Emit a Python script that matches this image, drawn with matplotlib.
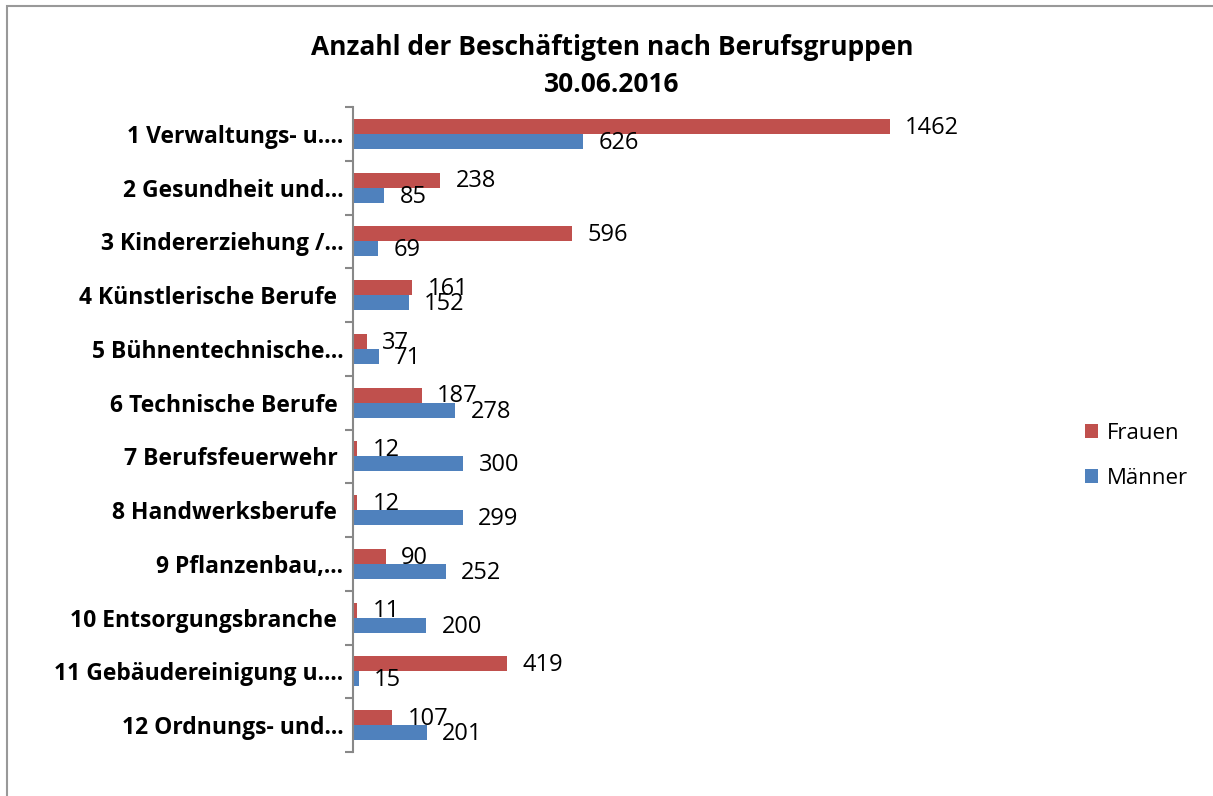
import numpy as np
import matplotlib.pyplot as plt
from matplotlib.patches import Rectangle

# data
kategorien = ['1 Verwaltungs- u....', '2 Gesundheit und...', '3 Kindererziehung /...',
              '4 Künstlerische Berufe ', '5 Bühnentechnische...', '6 Technische Berufe ',
              '7 Berufsfeuerwehr ', '8 Handwerksberufe ', '9 Pflanzenbau,...',
              '10 Entsorgungsbranche ', '11 Gebäudereinigung u....', '12 Ordnungs- und...']
frauen = [1462, 238, 596, 161, 37, 187, 12, 12, 90, 11, 419, 107]
maenner = [626, 85, 69, 152, 71, 278, 300, 299, 252, 200, 15, 201]

rot = '#C0504D'
blau = '#4F81BD'
plt.rcParams['font.family'] = ['Open Sans', 'DejaVu Sans']

W, H = 1213, 796
fig = plt.figure(figsize=(W / 100, H / 100), dpi=100)
ax = fig.add_axes([353 / W, 1 - 752 / H, (1060 - 353) / W, (752 - 107) / H])

y = np.arange(len(kategorien))
h = 0.28
ax.barh(y - h / 2, frauen, height=h, color=rot, label='Frauen')
ax.barh(y + h / 2, maenner, height=h, color=blau, label='Männer')

ax.set_ylim(len(kategorien) - 0.5, -0.5)
ax.set_xlim(0, (1060 - 353) / ((890 - 353) / 1462))

# value labels
for i in range(len(kategorien)):
    ax.annotate(str(frauen[i]), (frauen[i], y[i] - h / 2), xytext=(11, -1),
                textcoords='offset points', va='center', ha='left', fontsize=17)
    ax.annotate(str(maenner[i]), (maenner[i], y[i] + h / 2), xytext=(11, -1),
                textcoords='offset points', va='center', ha='left', fontsize=17)

# axis styling
for s in ['top', 'right', 'bottom']:
    ax.spines[s].set_visible(False)
ax.spines['left'].set_color('#888888')
ax.spines['left'].set_linewidth(1.5)
ax.set_xticks([])
ax.set_yticks(np.arange(-0.5, len(kategorien)), labels=[])
ax.tick_params(axis='y', which='major', length=6, width=1.5, color='#888888')
ax.set_yticks(y, labels=kategorien, minor=True)
ax.tick_params(axis='y', which='minor', length=0, pad=7)
for t in ax.get_yticklabels(minor=True):
    t.set_fontweight('bold')
    t.set_fontsize(16.5)

fig.text(612 / W, 1 - 66 / H, 'Anzahl der Beschäftigten nach Berufsgruppen\n30.06.2016',
         ha='center', va='center', fontsize=19, fontweight='bold', linespacing=1.5)

ax.legend(loc='center left', bbox_to_anchor=(1065 / W, 1 - 456 / H),
          bbox_transform=fig.transFigure, frameon=False, fontsize=16,
          handlelength=0.6, handleheight=0.6, handletextpad=0.4, labelspacing=1.1)

# outer chart border
fig.patches.append(Rectangle((7 / W, -0.05), 1.1, 1 - 6 / H + 0.05, transform=fig.transFigure,
                             fill=False, edgecolor='#999999', linewidth=1.5, clip_on=False))

fig.savefig('out.png', dpi=100)
